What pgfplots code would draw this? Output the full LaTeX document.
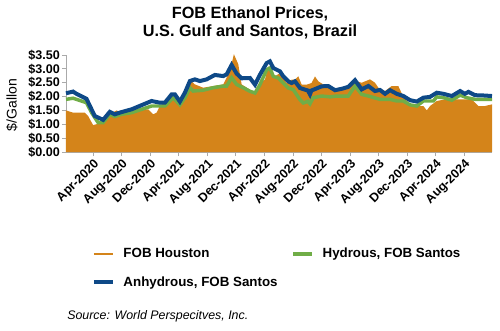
\documentclass[border=0pt]{standalone}
\usepackage{pgfplots}
\pgfplotsset{compat=1.18}
\usepackage{fontspec}
\setmainfont{Liberation Sans}
\definecolor{cOrange}{RGB}{212,132,26}
\definecolor{cGreen}{RGB}{112,173,71}
\definecolor{cBlue}{RGB}{14,73,135}
\definecolor{axgray}{RGB}{170,170,170}
\begin{document}
\begin{tikzpicture}[x=1pt,y=1pt]
\useasboundingbox (-49.5,-133.5) rectangle (325.5,114);
\begin{axis}[
  at={(0,0)}, anchor=south west,
  scale only axis, width=319.5pt, height=72.75pt,
  xmin=-0.8, xmax=58.9, ymin=0, ymax=3.5,
  axis x line*=bottom, axis y line*=left,
  axis line style={-, draw=axgray},
  clip=false,
  xtick={3,7,11,15,19,23,27,31,35,39,43,47,51,55},
  xticklabels={Apr-2020,Aug-2020,Dec-2020,Apr-2021,Aug-2021,Dec-2021,Apr-2022,Aug-2022,Dec-2022,Apr-2023,Aug-2023,Dec-2023,Apr-2024,Aug-2024},
  ytick={0,0.5,1,1.5,2,2.5,3,3.5},
  yticklabel={\$\pgfmathprintnumber[fixed,fixed zerofill,precision=2]{\tick}},
  /pgf/number format/assume math mode=true,
  tick style={draw=axgray, line width=0.6pt},
  tick align=outside, major tick length=3pt,
  tick label style={font=\fontsize{9.4}{10}\selectfont\bfseries},
  xticklabel style={rotate=45, anchor=north east, inner sep=1pt},
  yticklabel style={inner sep=1.5pt},
  legend columns=2,
  legend cell align=left,
  legend image code/.code={\draw[#1] (0pt,0pt) -- (14.25pt,0pt);},
  legend style={at={(0.0600,-0.975)}, anchor=north west, draw=none, fill=none,
    font=\fontsize{10}{11}\selectfont\bfseries, inner sep=0pt, row sep=10.5pt,
    nodes={inner sep=1pt},
    /tikz/every odd column/.style={column sep=5.5pt},
    /tikz/every even column/.style={column sep=0pt}},
]
\addplot[fill=cOrange, draw=none, forget plot] coordinates {
(-0.8,1.50) (0.19,1.42) (1.1,1.42) (1.84,1.42) (2.30,1.30) (3.0,0.97) (3.70,1.02) (4.40,1.06)
(5.34,1.36) (6.28,1.50) (6.98,1.42) (8.39,1.48) (9.79,1.54) (10.71,1.54) (11.42,1.36) (11.9,1.42)
(12.35,1.66) (14.0,1.96) (15.16,1.72) (16.10,2.32) (16.56,2.62) (17.26,2.44) (18.43,2.32) (19.83,2.38)
(21.23,2.44) (22.17,2.92) (22.73,3.53) (23.34,3.17) (23.81,2.44) (24.98,2.25) (25.68,2.13) (26.38,2.49)
(27.08,2.61) (27.54,3.09) (28.02,2.85) (28.48,2.73) (29.19,2.85) (29.65,2.67) (30.12,2.49) (30.83,2.61)
(31.29,2.61) (31.76,2.73) (32.23,2.43) (32.93,2.43) (33.62,2.49) (34.09,2.73) (34.56,2.55) (35.26,2.44)
(35.96,2.38) (36.90,2.26) (38.3,2.32) (39.70,2.56) (40.64,2.50) (41.80,2.62) (42.50,2.50) (42.97,2.32)
(43.91,2.20) (44.84,2.38) (45.77,2.38) (46.48,1.99) (47.42,1.72) (48.36,1.66) (49.28,1.66) (49.76,1.50)
(50.22,1.66) (51.16,1.84) (52.33,1.90) (53.74,1.90) (55.14,1.90) (56.07,1.90) (57.00,1.66) (57.94,1.66)
(58.9,1.72)
} \closedcycle;
\addplot[cGreen, line width=2.6pt, forget plot] coordinates {
(-0.8,1.90) (0.19,1.94) (2.07,1.78) (2.78,1.42) (3.70,1.06) (4.40,1.06) (5.34,1.36) (6.04,1.28)
(6.98,1.36) (8.39,1.42) (9.79,1.54) (11.19,1.66) (12.35,1.66) (13.06,1.66) (14.22,1.96) (15.16,1.70)
(15.86,1.96) (16.56,2.32) (17.03,2.20) (18.43,2.23) (19.83,2.32) (21.23,2.38) (21.71,2.38) (22.41,2.68)
(23.11,2.44) (24.04,2.32) (24.98,2.19) (25.68,2.13) (26.38,2.43) (27.32,2.97) (27.78,3.03) (28.25,2.73)
(28.95,2.67) (29.65,2.49) (30.35,2.31) (31.06,2.25) (31.99,1.89) (32.46,1.77) (33.1,1.83) (33.39,1.74)
(33.85,1.96) (35.03,2.02) (36.2,1.99) (37.1,2.02) (38.76,2.02) (39.70,2.38) (40.64,2.08) (41.57,2.02)
(43.20,1.90) (44.61,1.90) (45.55,1.84) (46.48,1.84) (47.42,1.70) (48.36,1.66) (49.28,1.84) (50.69,1.84)
(51.16,1.99) (52.09,1.96) (53.27,1.87) (54.43,2.05) (55.37,1.96) (56.53,1.90) (58.9,1.90)
};
\addplot[cBlue, line width=3pt, forget plot] coordinates {
(-0.8,2.12) (0.19,2.18) (0.67,2.10) (2.07,1.92) (2.78,1.54) (3.24,1.30) (4.40,1.16) (5.34,1.45)
(6.04,1.36) (6.98,1.44) (8.39,1.54) (9.79,1.69) (11.19,1.84) (12.35,1.78) (13.06,1.78) (14.0,2.08)
(14.46,2.08) (15.16,1.82) (15.86,2.14) (16.56,2.56) (17.26,2.62) (17.96,2.56) (18.90,2.62) (20.06,2.78)
(21.23,2.74) (21.71,2.80) (22.41,3.14) (23.11,2.83) (23.81,2.66) (24.98,2.67) (25.68,2.43) (26.38,2.79)
(27.32,3.21) (27.78,3.27) (28.25,3.03) (28.72,2.97) (29.19,2.91) (29.65,2.73) (30.35,2.55) (30.83,2.49)
(31.29,2.55) (31.99,2.31) (32.69,2.25) (33.1,2.22) (33.39,2.08) (33.6,2.22) (34.09,2.27) (35.03,2.37)
(35.96,2.38) (36.90,2.23) (37.84,2.28) (38.76,2.35) (39.70,2.59) (40.64,2.26) (41.57,2.38) (42.50,2.20)
(43.20,2.24) (43.91,2.10) (44.61,2.23) (45.55,2.10) (46.48,2.02) (47.42,1.87) (48.36,1.82) (49.28,1.96)
(50.22,1.99) (51.16,2.14) (52.09,2.10) (53.27,2.02) (54.43,2.20) (55.1,2.10) (55.6,2.17) (56.53,2.05)
(57.7,2.04) (58.9,2.02)
};
\addlegendimage{draw=cOrange, line width=1.3pt}
\addlegendentry{\makebox[125pt][l]{FOB Houston}}
\addlegendimage{draw=cGreen, line width=2.6pt}
\addlegendentry{Hydrous, FOB Santos}
\addlegendimage{draw=cBlue, line width=3pt}
\addlegendentry{\makebox[125pt][l]{Anhydrous, FOB Santos}}
\end{axis}
\node[align=center, font=\fontsize{12.2}{13.5}\selectfont\bfseries] at (138,97) {FOB Ethanol Prices,\\U.S. Gulf and Santos, Brazil};
\node[rotate=90, font=\fontsize{10.5}{12}\selectfont] at (-40.5,35.25) {\$/Gallon};
\node[anchor=west, inner sep=0pt, font=\fontsize{9.3}{11}\selectfont\itshape] at (0.75,-123) {Source: World Perspecitves, Inc.};
\end{tikzpicture}
\end{document}
